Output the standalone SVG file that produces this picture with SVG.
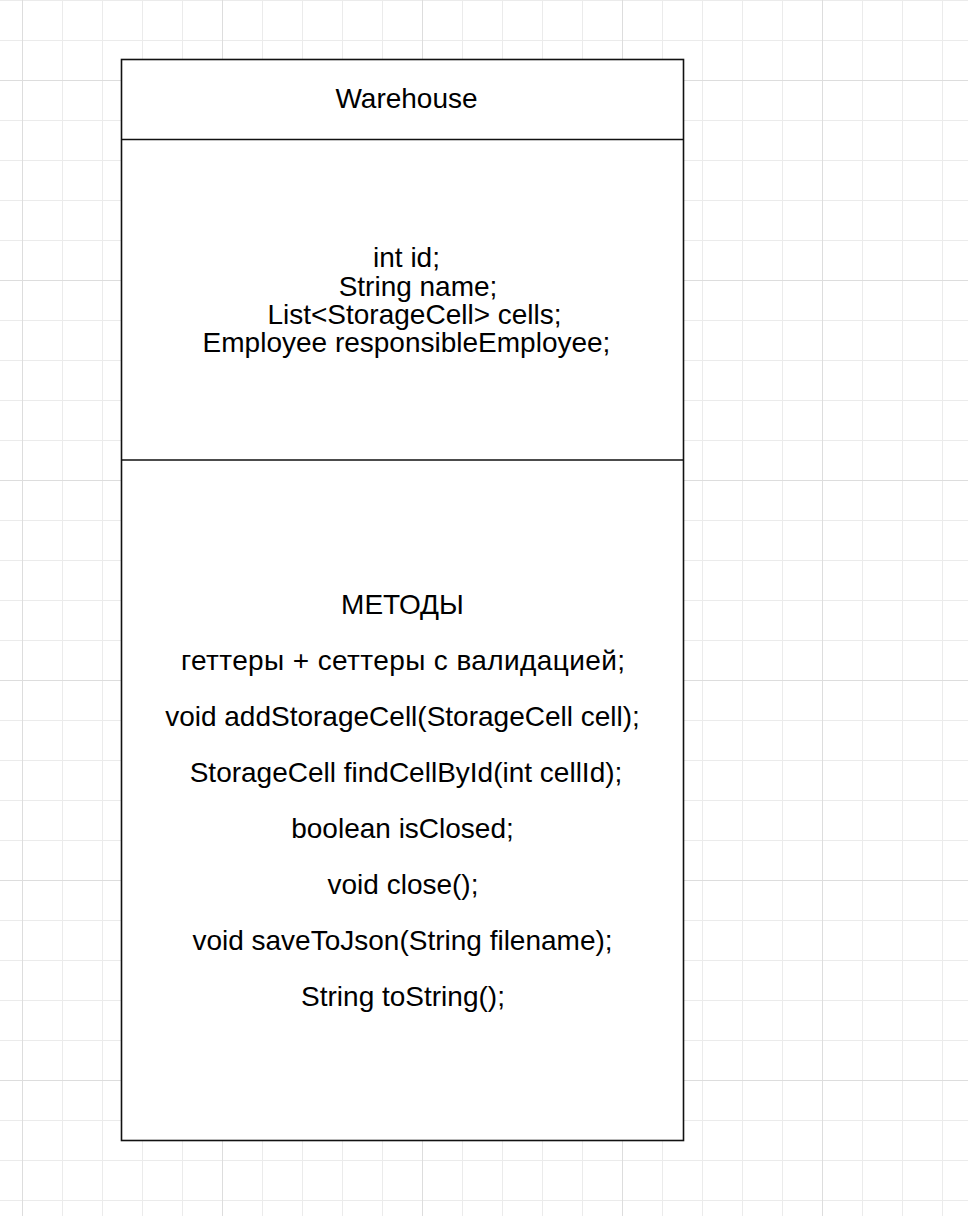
<svg xmlns="http://www.w3.org/2000/svg" width="968" height="1216" viewBox="0 0 968 1216">
  <defs>
    <pattern id="minor" width="40" height="40" patternUnits="userSpaceOnUse" x="22" y="0">
      <path d="M0 0 V40 M0 0 H40" fill="none" stroke="#ebebeb" stroke-width="2"/>
    </pattern>
    <pattern id="major" width="200" height="200" patternUnits="userSpaceOnUse" x="22" y="80">
      <path d="M0 0 V200 M0 0 H200" fill="none" stroke="#dddddd" stroke-width="2"/>
    </pattern>
  </defs>
  <style>
    .t { font-family: "Liberation Sans", Arial, sans-serif; font-size: 28px; fill: #000; text-anchor: middle; }
    .box { fill: #fff; stroke: #111; stroke-width: 1.6; }
    .sep { stroke: #111; stroke-width: 1.6; fill: none; }
  </style>
  <rect width="968" height="1216" fill="#fff"/>
  <rect width="968" height="1216" fill="url(#minor)"/>
  <rect width="968" height="1216" fill="url(#major)"/>

  <g id="warehouse">
    <rect class="box" x="121.5" y="59.5" width="562" height="1081"/>
    <line class="sep" x1="121.5" y1="139.5" x2="683.5" y2="139.5"/>
    <line class="sep" x1="121.5" y1="460" x2="683.5" y2="460"/>
    <text class="t" x="406.5" y="108">Warehouse</text>
    <g id="attributes">
      <text class="t" x="406.5" y="267">int id;</text>
      <text class="t" x="418" y="295.5">String name;</text>
      <text class="t" x="414.5" y="323.5">List&lt;StorageCell&gt; cells;</text>
      <text class="t" x="406.5" y="352">Employee responsibleEmployee;</text>
    </g>
    <g id="methods">
      <text class="t" x="402.5" y="613.5">МЕТОДЫ</text>
      <text class="t" x="403" y="669.5" textLength="444" lengthAdjust="spacing">геттеры + сеттеры с валидацией;</text>
      <text class="t" x="402.5" y="725.5">void addStorageCell(StorageCell cell);</text>
      <text class="t" x="406" y="781.5">StorageCell findCellById(int cellId);</text>
      <text class="t" x="402.5" y="837.5">boolean isClosed;</text>
      <text class="t" x="403" y="893.5">void close();</text>
      <text class="t" x="402.5" y="949.5">void saveToJson(String filename);</text>
      <text class="t" x="403" y="1005.5">String toString();</text>
    </g>
  </g>
  <g id="connectors"/>
</svg>
